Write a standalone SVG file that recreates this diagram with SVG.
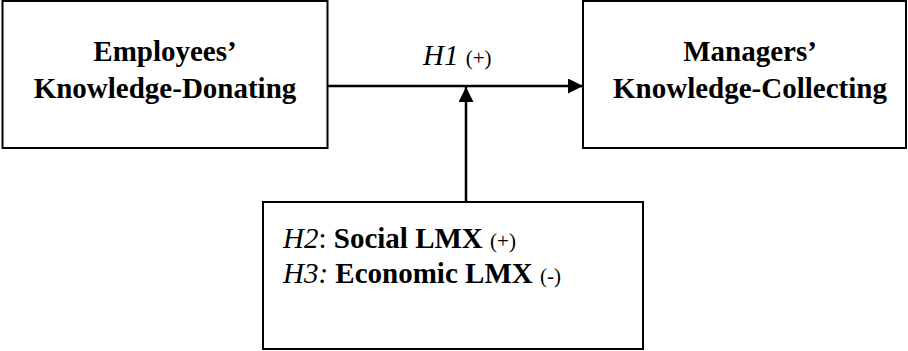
<svg xmlns="http://www.w3.org/2000/svg" width="908" height="351" viewBox="0 0 908 351">
<style>
.box{fill:#fff;stroke:#000;stroke-width:2}
.t{font-family:"Liberation Serif","Times New Roman",serif;font-size:29px;fill:#000}
.b{font-weight:bold}
.i{font-style:italic}
.s{font-size:21px}
.ln{stroke:#000;stroke-width:2.5;fill:none}
</style>
<defs>
<marker id="ah" markerWidth="16" markerHeight="16" refX="15" refY="7.5" orient="auto" markerUnits="userSpaceOnUse">
<path d="M0,0 L15,7.5 L0,15 Z" fill="#000"/>
</marker>
</defs>
<g id="employees">
<rect class="box" x="2.5" y="1" width="325" height="147"/>
<text class="t b" x="165" y="61" text-anchor="middle">Employees’</text>
<text class="t b" x="165" y="98" text-anchor="middle">Knowledge-Donating</text>
</g>
<g id="managers">
<rect class="box" x="583" y="1" width="323" height="147"/>
<text class="t b" x="750" y="61" text-anchor="middle">Managers’</text>
<text class="t b" x="750" y="98" text-anchor="middle">Knowledge-Collecting</text>
</g>
<g id="lmx">
<rect class="box" x="263" y="202" width="380" height="147"/>
<text class="t" x="283" y="248"><tspan class="i">H2</tspan>: <tspan class="b">Social LMX</tspan> <tspan class="s">(+)</tspan></text>
<text class="t" x="283" y="283"><tspan class="i">H3:</tspan> <tspan class="b">Economic LMX</tspan> <tspan class="s">(-)</tspan></text>
</g>
<g id="connectors">
<line class="ln" x1="327" y1="86" x2="583" y2="86" marker-end="url(#ah)"/>
<line class="ln" x1="466" y1="202" x2="466" y2="87" marker-end="url(#ah)"/>
<text class="t" x="423" y="65"><tspan class="i">H1</tspan> <tspan class="s">(+)</tspan></text>
</g>
</svg>
